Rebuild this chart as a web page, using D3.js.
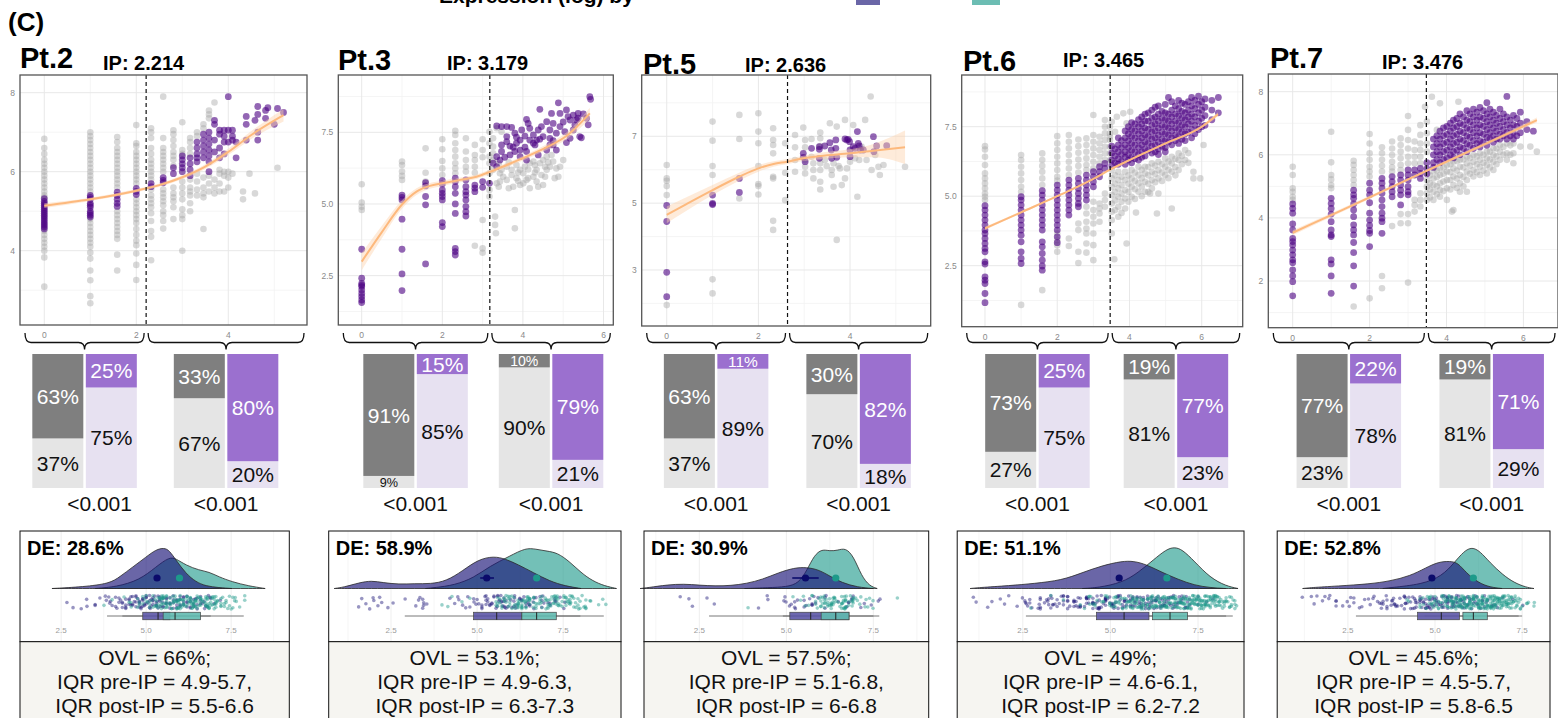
<!DOCTYPE html>
<html lang="en">
<head>
<meta charset="UTF-8">
<title>Expression (log) pre-IP / post-IP</title>
<script src="https://cdn.jsdelivr.net/npm/d3@7"></script>
<style>
  body { margin: 0; background: #fff; overflow: hidden; }
  svg text { font-family: "Liberation Sans", Arial, sans-serif; }
</style>
</head>
<body>
<svg id="chart" width="1558" height="718"></svg>
<script>
// ---------- values ----------
const patients = ["Pt.2", "Pt.3", "Pt.5", "Pt.6", "Pt.7"];
const ipValues = [2.214, 3.179, 2.636, 3.465, 3.476];
const deValues = ["28.6%", "58.9%", "30.9%", "51.1%", "52.8%"];
const ovlValues = ["66%", "53.1%", "57.5%", "49%", "45.6%"];
const iqrPre = ["4.9-5.7", "4.9-6.3", "5.1-6.8", "4.6-6.1", "4.5-5.7"];
const iqrPost = ["5.5-6.6", "6.3-7.3", "6-6.8", "6.2-7.2", "5.8-6.5"];

// stacked bars: [pre-IP group, post-IP group] per patient
const grayDark = [[63, 33], [91, 10], [63, 30], [73, 19], [77, 19]];
const grayLight = [[37, 67], [9, 90], [37, 70], [27, 81], [23, 81]];
const purpleDark = [[25, 80], [15, 79], [11, 82], [25, 77], [22, 71]];
const purpleLight = [[75, 20], [85, 21], [89, 18], [75, 23], [78, 29]];
const pValues = [["<0.001", "<0.001"], ["<0.001", "<0.001"], ["<0.001", "<0.001"], ["<0.001", "<0.001"], ["<0.001", "<0.001"]];

// scatter points, [x, [y values]]
const pt2Gray = [
  [0, [6.83, 6.6, 6.45, 6.3, 6.2, 6.1, 6.0, 5.9, 5.8, 5.7, 5.6, 5.5, 5.4, 5.35, 4.5, 4.4, 4.3, 4.2, 4.1, 4.0, 3.83, 3.09]],
  [1, [7.0, 6.9, 6.8, 6.7, 6.6, 6.5, 6.4, 6.3, 6.2, 6.1, 6.0, 5.9, 5.8, 5.7, 5.6, 5.5, 4.8, 4.7, 4.6, 4.5, 4.4, 4.3, 4.2, 4.1, 3.95, 3.8, 3.5, 3.25, 2.85, 2.67]],
  [1.585, [6.88, 6.75, 6.6, 6.5, 6.4, 6.3, 6.2, 6.1, 6.0, 5.9, 5.8, 5.7, 5.6, 5.0, 4.9, 4.8, 4.7, 4.6, 4.5, 4.4, 4.3, 3.9, 3.5]],
  [2, [7.18, 6.72, 6.65, 6.5, 6.4, 6.3, 6.2, 6.1, 6.0, 5.9, 5.8, 5.7, 5.3, 5.2, 5.1, 5.0, 4.9, 4.8, 4.7, 4.55, 4.4, 4.25, 4.14, 3.93, 3.64, 3.26]],
  [2.322, [7.1, 7.0, 6.85, 6.6, 6.45, 6.3, 6.2, 6.1, 6.0, 5.9, 5.8, 5.55, 5.4, 5.3, 5.2, 5.1, 4.95, 4.75, 4.5, 4.35, 3.76]],
  [2.585, [7.9, 6.85, 6.6, 6.5, 6.4, 6.3, 6.2, 6.1, 6.0, 5.55, 5.45, 5.35, 5.25, 5.15, 5.0, 4.9, 4.75, 4.56]],
  [2.807, [7.05, 6.95, 6.8, 6.65, 6.5, 6.4, 6.3, 6.15, 5.6, 5.45, 5.35, 5.25, 5.1, 4.8]],
  [3, [7.25, 6.55, 6.45, 5.75, 5.6, 5.45, 5.3, 5.05, 4.9, 4.8, 4.0]],
  [3.17, [6.85, 6.75, 6.6, 6.45, 5.8, 5.6, 5.5, 5.4, 5.2, 5.0]],
  [3.32, [7.0, 6.9, 5.95, 5.75, 5.55, 5.4]],
  [3.46, [7.2, 7.1, 5.85, 5.6, 5.45, 5.35, 4.55]],
  [3.58, [7.55, 7.45, 7.35, 5.9, 5.7, 5.5]],
  [3.7, [7.75, 5.8, 5.6, 5.45]],
  [3.81, [6.05, 5.95, 5.7, 5.5]],
  [3.91, [6.0, 5.9, 5.5]],
  [4, [6.0, 5.85, 5.6]],
  [4.09, [5.95]],
  [4.32, [5.5, 5.3]],
  [4.46, [5.95]],
  [4.58, [5.45]],
  [5.07, [6.1]]
];
const pt2Purple = [
  [0, [5.32, 5.25, 5.2, 5.15, 5.1, 5.05, 5.0, 4.95, 4.9, 4.85, 4.8, 4.75, 4.7, 4.65, 4.6, 4.55]],
  [1, [5.4, 5.35, 5.3, 5.2, 5.15, 5.1, 5.0, 4.95, 4.9, 4.85]],
  [1.585, [5.48, 5.4, 5.3, 5.2, 5.12]],
  [2, [5.58, 5.5, 5.42]],
  [2.322, [5.7, 5.62]],
  [2.585, [5.85, 5.78, 5.72]],
  [2.807, [6.1, 5.95]],
  [3, [6.4, 6.3, 6.2, 6.1, 6.0]],
  [3.17, [6.35, 6.2, 6.05, 5.9]],
  [3.32, [6.75, 6.6, 6.45, 6.35, 6.25]],
  [3.46, [6.95, 6.8, 6.65, 6.5, 6.35]],
  [3.58, [7.0, 6.85, 6.7, 6.55, 6.4, 6.25, 6.0]],
  [3.7, [7.3, 7.2, 6.8, 6.5]],
  [3.81, [7.05, 6.95, 6.6, 6.35]],
  [3.91, [7.05, 6.9, 6.75, 6.45]],
  [4, [7.9, 7.05, 6.75]],
  [4.09, [7.05, 6.9, 6.8]],
  [4.17, [6.75, 6.35]],
  [4.39, [7.4, 7.2, 6.8]],
  [4.58, [7.3]],
  [4.64, [7.65, 7.45, 7.0, 6.8]],
  [4.81, [7.55, 7.35]],
  [4.86, [7.62]],
  [5.0, [7.2]],
  [5.07, [7.6]],
  [5.2, [7.5]]
];

const pt3Gray = [
  [0, [5.69, 5.05, 4.9, 4.79]],
  [1, [6.48, 6.36, 6.13, 5.98, 5.84]],
  [1.585, [6.94, 6.09, 5.78]],
  [2, [7.26, 6.91, 6.5, 6.24, 6.01]],
  [2.322, [7.55, 7.41, 7.12, 6.88, 6.65, 6.42, 6.24, 6.07]],
  [2.585, [7.29, 6.83, 6.53, 6.3, 6.13]],
  [2.807, [7.06, 6.71, 6.53, 6.3, 6.09, 3.54]],
  [3, [7.26, 6.88, 6.63, 4.44, 3.45, 3.3]],
  [3.17, [7.52, 7.12, 6.65, 6.42, 6.07, 5.49, 5.26]],
  [3.26, [7.29, 7.0, 6.77, 6.53, 6.19]],
  [3.31, [4.56, 4.27]], [3.33, [3.98]], [3.35, [7.64, 5.72]], [3.4, [6.4, 5.6]], [3.43, [6.07, 5.78]],
  [3.47, [7.52, 6.19]], [3.51, [5.95]], [3.6, [6.3, 5.84]], [3.65, [6.45, 5.55]], [3.72, [6.19, 6.01]],
  [3.76, [5.6]], [3.8, [4.79, 4.15]], [3.84, [6.36, 5.9]], [3.88, [6.1, 5.8]], [3.93, [6.19, 5.66]],
  [4.01, [6.07, 5.72]], [4.05, [6.3]], [4.09, [5.84]], [4.13, [6.2, 5.9]], [4.17, [6.42, 5.55]],
  [4.26, [6.48, 5.95]], [4.3, [6.35, 6.1]], [4.34, [6.19, 5.78]], [4.38, [5.6]], [4.42, [6.42]],
  [4.46, [6.01]], [4.5, [6.53, 5.66]], [4.55, [6.3, 5.95]], [4.59, [6.65, 6.19]], [4.63, [6.45]], [4.67, [6.3]],
  [4.71, [6.71]], [4.75, [6.48]], [4.79, [5.9]], [4.83, [6.24]], [4.88, [5.95]],
  [4.92, [6.3]], [5.0, [6.53]]
];
const pt3Purple = [
  [0, [3.42, 2.41, 2.23, 2.17, 2.12, 2.0, 1.88, 1.77, 1.65, 1.56]],
  [1, [5.31, 5.23, 5.14, 4.47, 3.42, 2.56, 1.98]],
  [1.585, [5.74, 5.63, 5.26, 4.97, 2.91]],
  [2, [5.81, 5.7, 5.49, 5.37, 5.26, 5.14, 4.35, 4.21]],
  [2.322, [5.9, 5.78, 5.6, 5.37, 5.0, 4.67, 3.45, 3.34, 3.22]],
  [2.585, [5.84, 5.6, 5.43, 5.31, 5.14, 4.91, 4.73, 4.58]],
  [2.807, [5.66, 5.55, 5.43]],
  [3, [5.78, 5.58]],
  [3.17, [5.72]],
  [3.26, [6.42]], [3.35, [7.72, 6.65, 6.3]], [3.43, [6.53]], [3.47, [7.7, 7.06, 6.83]],
  [3.55, [6.63]], [3.6, [7.7, 7.17, 7.35]], [3.68, [7.02, 6.71]], [3.72, [7.67]],
  [3.76, [6.98]], [3.8, [7.47, 6.83]], [3.84, [7.33, 7.12]], [3.93, [7.23, 6.88, 6.65]],
  [3.97, [7.58]], [4.05, [7.37, 6.98]], [4.09, [7.95, 6.83, 6.53]], [4.13, [7.81]],
  [4.17, [7.64, 7.23]], [4.26, [7.41, 7.12]], [4.3, [7.06]], [4.34, [7.23]],
  [4.38, [7.58, 6.71]], [4.42, [8.3, 7.26]], [4.46, [7.7]], [4.5, [7.35]],
  [4.59, [7.87, 6.88]], [4.67, [7.29, 7.58, 7.06]], [4.71, [8.16]], [4.75, [7.21, 7.81, 7.06]],
  [4.83, [7.47, 6.88]], [4.88, [8.53]], [4.92, [7.7, 8.16]], [5.0, [7.86]],
  [5.04, [7.52]], [5.08, [7.14, 8.28]], [5.12, [8.05]], [5.17, [7.29, 7.93]],
  [5.25, [8.1, 7.58]], [5.29, [7.76]], [5.33, [7.93]], [5.37, [8.16, 7.99]],
  [5.41, [7.35]], [5.45, [7.31]], [5.5, [8.14]], [5.58, [7.99]], [5.62, [7.76]],
  [5.66, [8.74]], [5.68, [8.65]]
];

const pt5Gray = [
  [0, [6.14, 5.74, 5.67, 5.51, 5.24, 1.95]],
  [1, [7.44, 6.87, 6.11, 5.84, 2.72, 2.3]],
  [1.585, [7.64, 6.92, 5.14]],
  [2, [7.69, 7.14, 6.79, 6.11, 5.57, 5.51, 5.26]],
  [2.322, [7.24, 6.89, 6.74, 6.49, 5.79, 5.74, 4.47, 4.2]],
  [2.585, [6.79, 5.91, 5.09]],
  [2.8, [7.04, 6.67, 6.29, 5.94]],
  [2.98, [7.26]], [3.02, [6.89, 6.67, 6.29, 6.09, 5.89]],
  [3.16, [6.92, 6.39]], [3.2, [6.19, 5.99, 5.74]],
  [3.35, [7.11, 6.94, 6.71, 6.19, 5.99, 5.64, 5.41]],
  [3.45, [6.29]], [3.49, [6.11]], [3.56, [7.39]], [3.6, [5.99, 5.84]],
  [3.64, [5.49, 6.19]], [3.71, [7.29, 3.9]], [3.75, [6.11]], [3.78, [6.04]],
  [3.82, [5.54]], [3.89, [7.49, 5.74]], [3.93, [6.04]], [4.0, [6.24]],
  [4.07, [7.34]], [4.11, [6.34]], [4.16, [5.19]], [4.2, [6.29]], [4.25, [6.69]],
  [4.33, [7.49]], [4.36, [6.29]], [4.45, [8.19]], [4.47, [5.99]], [4.55, [6.44]],
  [4.62, [6.09]], [4.65, [5.84]], [4.73, [6.14]], [5.2, [6.09]]
];
const pt5Purple = [
  [0, [4.93, 4.45, 2.93, 2.2]],
  [1, [5.24, 4.99, 4.96]],
  [1.585, [5.74, 5.32]],
  [2.98, [6.49, 6.37]], [3.02, [6.24]], [3.16, [6.64]], [3.33, [6.69, 6.61, 6.34]],
  [3.45, [6.71]], [3.56, [6.81]], [3.59, [6.59]], [3.6, [6.34]], [3.69, [6.89, 6.64]],
  [3.71, [6.37]], [3.89, [6.92]], [3.93, [6.89]], [3.96, [6.91]], [3.99, [6.84]],
  [4.0, [6.59, 6.39]], [4.07, [6.69]], [4.11, [6.64]], [4.16, [7.14]], [4.18, [6.79]],
  [4.2, [6.71]], [4.23, [6.59]], [4.29, [6.59]], [4.51, [6.99]], [4.52, [6.54]],
  [4.58, [6.71]], [4.8, [6.72]]
];

const pt6Gray = [
  [0, [6.8, 6.68, 6.42, 6.12, 5.82, 5.64, 5.46, 5.28, 5.1, 4.98, 4.86]],
  [1, [6.48, 6.3, 6.06, 5.82, 5.58, 5.34, 5.16, 1.09]],
  [1.585, [6.54, 6.3, 6.09, 5.88, 5.64, 5.4, 1.62]],
  [2, [7.16, 6.9, 6.66, 6.42, 6.18, 5.94, 5.7, 5.56, 3.66, 3.42, 3.24, 3.0]],
  [2.322, [7.2, 6.96, 6.72, 6.48, 6.24, 6.0, 5.76, 3.48, 3.21]],
  [2.585, [7.04, 6.8, 6.56, 6.32, 6.09, 5.85, 4.02, 3.78, 3.0, 2.6]],
  [2.807, [7.08, 6.84, 6.6, 6.36, 6.12, 5.94, 4.62, 4.38, 4.08, 3.84, 3.66, 3.3, 2.97]],
  [3, [7.92, 7.2, 6.96, 6.72, 6.48, 6.24, 6.0, 4.8, 4.5, 4.26, 4.02, 3.66, 3.24, 2.7]],
  [3.17, [7.14, 6.9, 6.66, 6.42, 6.18, 4.74, 4.56, 4.38, 4.08]],
  [3.32, [7.74, 7.5, 7.26, 7.02, 6.78, 6.54, 6.3, 5.1, 4.86, 4.62]],
  [3.46, [7.5, 7.26, 7.14, 7.02, 6.78, 6.54, 6.3]],
  [3.51, [7.68, 5.94, 5.64, 5.34, 5.04, 4.74, 4.44, 4.14, 3.66]],
  [3.58, [2.73]], [3.6, [7.32, 5.75, 5.45, 5.15, 4.85, 4.5]], [3.65, [7.86]],
  [3.69, [5.88, 5.58, 5.28, 4.98, 4.62, 4.26]],
  [3.78, [5.7, 5.4, 5.1, 4.8, 4.4]],
  [3.83, [7.98]],
  [3.88, [5.88, 5.58, 5.22, 4.92, 4.56]],
  [3.92, [7.62, 3.3]], [3.97, [5.75, 5.45, 5.15, 4.8]], [4.02, [8.04]],
  [4.06, [5.94, 5.64, 5.34, 4.98]],
  [4.15, [5.85, 5.55, 5.25, 4.9]],
  [4.18, [4.41]],
  [4.25, [6.06, 5.76, 5.46, 5.16]],
  [4.34, [5.95, 5.65, 5.35, 5.0]],
  [4.43, [6.06, 5.82, 5.52, 5.16]],
  [4.52, [6.05, 5.75, 5.45, 5.15]],
  [4.57, [5.1]],
  [4.62, [6.18, 5.88, 5.58, 5.28]],
  [4.71, [6.1, 5.8, 5.5]],
  [4.76, [4.38]],
  [4.8, [6.24, 5.94, 5.64, 5.1]],
  [4.9, [6.15, 5.85, 5.55]],
  [4.99, [6.36, 6.06, 5.76]],
  [5.08, [6.25, 5.95, 5.65]],
  [5.17, [6.42, 6.18, 5.88, 4.56]],
  [5.27, [6.35, 6.05, 5.75]],
  [5.36, [6.54, 6.3, 5.94]],
  [5.45, [6.45, 6.15]],
  [5.54, [6.66, 6.3]],
  [5.63, [6.55, 6.2]],
  [5.77, [5.88, 5.64]], [5.96, [5.64]], [6.05, [6.84]]
];
const pt6Purple = [
  [0, [4.66, 4.5, 4.32, 4.14, 3.96, 3.78, 3.66, 3.48, 3.3, 3.12, 3.0, 2.64, 2.56, 2.1, 1.98, 1.86, 1.5, 1.17]],
  [1, [4.98, 4.86, 4.68, 4.5, 4.32, 4.14, 3.96, 3.78, 3.6, 3.36, 3.0, 2.76, 2.58]],
  [1.585, [5.2, 5.04, 4.86, 4.68, 4.5, 4.32, 4.14, 3.96, 3.78, 3.36, 3.18, 2.94, 2.7, 2.49, 2.34]],
  [2, [5.4, 5.22, 5.04, 4.86, 4.68, 4.5, 4.32, 4.14, 3.96, 3.78, 3.54, 3.33]],
  [2.322, [5.58, 5.4, 5.22, 5.04, 4.86, 4.68, 4.5, 4.32]],
  [2.585, [5.64, 5.46, 5.28, 5.1, 4.92, 4.74, 4.62]],
  [2.807, [5.76, 5.58, 5.4, 5.22, 5.04, 4.86]],
  [3, [5.88, 5.7, 5.52, 5.34]],
  [3.17, [6.06, 5.88, 5.7]],
  [3.32, [6.18, 6.0]],
  [3.51, [6.8, 6.55, 6.3, 6.1]],
  [3.6, [6.7, 6.45, 6.2]],
  [3.69, [7.1, 6.85, 6.6, 6.35, 6.15]],
  [3.78, [7.0, 6.75, 6.5, 6.25]],
  [3.88, [7.35, 7.1, 6.85, 6.6, 6.4, 6.15]],
  [3.97, [7.5, 7.25, 7.0, 6.75, 6.5, 6.3]],
  [4.06, [7.65, 7.4, 7.15, 6.9, 6.65, 6.4, 6.2]],
  [4.15, [7.6, 7.35, 7.1, 6.85, 6.6, 6.35]],
  [4.25, [7.75, 7.5, 7.25, 7.0, 6.75, 6.5, 6.3]],
  [4.34, [7.85, 7.6, 7.35, 7.1, 6.85, 6.6, 6.4]],
  [4.43, [7.95, 7.7, 7.45, 7.2, 6.95, 6.7, 6.45]],
  [4.52, [8.0, 7.7, 7.4, 7.15, 6.9, 6.65]],
  [4.62, [8.1, 7.8, 7.55, 7.3, 7.05, 6.8, 6.55]],
  [4.71, [8.2, 7.85, 7.6, 7.35, 7.1, 6.85, 6.6]],
  [4.8, [8.25, 7.95, 7.7, 7.45, 7.2, 6.95, 6.7, 6.5]],
  [4.9, [8.05, 7.8, 7.55, 7.3, 7.05, 6.8]],
  [4.99, [8.3, 8.0, 7.75, 7.5, 7.25, 7.0, 6.75, 6.6]],
  [5.08, [8.55, 7.95, 7.7, 7.45, 7.2, 6.95]],
  [5.17, [8.4, 8.1, 7.85, 7.6, 7.35, 7.1, 6.85]],
  [5.27, [8.25, 7.95, 7.7, 7.45, 7.2, 7.0]],
  [5.36, [8.45, 8.15, 7.9, 7.65, 7.4, 7.15, 6.9]],
  [5.45, [8.35, 8.05, 7.8, 7.55, 7.3, 7.05]],
  [5.54, [8.3, 8.0, 7.75, 7.5, 7.25, 7.0]],
  [5.63, [8.4, 8.1, 7.85, 7.6, 7.3]],
  [5.72, [8.55, 8.25, 7.95, 7.7, 7.4, 7.1]],
  [5.81, [8.45, 8.15, 7.85, 7.55, 7.25]],
  [5.91, [8.6, 8.3, 8.0, 7.7, 7.4]],
  [6.0, [8.4, 8.1, 7.8, 7.5]],
  [6.09, [8.5, 8.2, 7.9, 7.55]],
  [6.28, [8.45, 8.1, 7.75]],
  [6.46, [8.55, 8.0]]
];

const pt7Gray = [
  [0, [5.62, 5.36, 4.94, 4.83, 4.67, 4.57]],
  [1, [6.73, 5.76, 5.36, 5.22, 5.04, 4.94]],
  [1.585, [5.81, 5.68, 5.52, 5.36, 5.2, 5.04, 1.19]],
  [2, [6.66, 6.36, 6.05, 5.84, 5.62, 5.47, 5.31, 1.45]],
  [2.322, [6.24, 6.05, 5.84, 5.65, 5.47, 2.16, 1.77]],
  [2.585, [6.42, 6.2, 5.99, 5.78, 5.6, 5.47, 3.74]],
  [2.807, [6.52, 6.31, 6.1, 5.89, 5.68, 5.52, 4.12, 3.83]],
  [3, [7.23, 6.79, 6.47, 6.2, 5.94, 5.73, 4.12, 3.83, 1.95]],
  [3.17, [6.42, 6.15, 5.94, 5.73, 4.57, 4.41, 4.2]],
  [3.32, [6.94, 6.63, 6.36, 6.15, 5.94, 5.73, 4.78, 4.57, 4.36]],
  [3.44, [7.52]],
  [3.49, [7.05, 6.68, 6.36, 6.1, 5.2, 4.99, 4.78, 4.57]],
  [3.57, [5.35, 5.1, 4.9, 4.65]],
  [3.62, [7.84]],
  [3.66, [5.47, 5.25, 5.04, 4.83, 4.57]],
  [3.75, [6.79, 5.5, 5.3, 5.0, 4.75]],
  [3.83, [7.63, 5.57, 5.36, 5.1, 4.88, 4.67]],
  [3.92, [5.6, 5.4, 5.15, 4.85]],
  [4.01, [5.68, 5.47, 5.2, 4.94, 4.57]],
  [4.1, [5.7, 5.45, 5.2, 4.9]],
  [4.14, [4.2]],
  [4.18, [5.78, 5.57, 5.31, 5.04, 4.25]],
  [4.27, [5.8, 5.5, 5.25, 4.95]],
  [4.31, [7.68]],
  [4.35, [5.84, 5.62, 5.36, 5.1, 4.83]],
  [4.44, [5.85, 5.6, 5.3, 5.0]],
  [4.53, [5.94, 5.73, 5.47, 5.2, 4.83]],
  [4.61, [5.9, 5.65, 5.4]],
  [4.7, [5.99, 5.78, 5.52, 5.31]],
  [4.79, [5.95, 5.7, 5.45]],
  [4.87, [6.05, 5.84, 5.62, 5.36]],
  [4.96, [6.0, 5.75, 5.5]],
  [5.05, [6.1, 5.89, 5.68, 5.41]],
  [5.13, [6.1, 5.85, 5.6]],
  [5.22, [6.2, 5.99, 5.78, 5.52]],
  [5.3, [6.2, 5.95, 5.7]],
  [5.39, [6.31, 6.1, 5.84]],
  [5.48, [6.25, 6.0]],
  [5.57, [6.36, 6.05, 5.84]],
  [5.66, [6.3, 6.0]],
  [5.74, [6.36, 6.05, 5.73]],
  [5.92, [6.26]], [6.18, [6.26]], [6.35, [6.1]]
];
const pt7Purple = [
  [0, [4.44, 4.3, 4.15, 3.81, 3.62, 3.35, 3.25, 3.14, 2.98, 2.83, 2.67, 2.58, 2.35, 2.16, 1.98, 1.53]],
  [1, [4.62, 4.46, 4.3, 4.12, 3.88, 3.62, 3.46, 3.41, 2.67, 2.54, 2.16, 1.61]],
  [1.585, [4.88, 4.73, 4.62, 4.44, 4.25, 4.04, 3.78, 3.62, 3.46, 3.22, 2.9, 2.48, 1.84]],
  [2, [5.1, 4.88, 4.73, 4.48, 4.15, 3.93, 3.76, 3.6, 3.51, 3.09]],
  [2.322, [5.25, 5.1, 4.94, 4.78, 4.57, 4.36, 4.15, 3.99, 3.88, 3.51]],
  [2.585, [5.31, 5.15, 4.99, 4.83, 4.67]],
  [2.807, [5.36, 5.2, 5.04, 4.88, 4.73, 4.41]],
  [3, [5.52, 5.36, 5.2, 4.99, 4.83, 4.73]],
  [3.17, [5.52, 5.36]],
  [3.32, [5.57, 5.41, 5.25]],
  [3.49, [5.75, 5.55, 5.4]],
  [3.66, [6.5, 6.25, 6.0, 5.75, 5.6]],
  [3.75, [6.6, 6.35, 6.1, 5.85]],
  [3.83, [6.75, 6.5, 6.25, 6.0, 5.75]],
  [3.92, [6.85, 6.6, 6.35, 6.1, 5.85]],
  [4.01, [6.9, 6.65, 6.4, 6.15, 5.9]],
  [4.1, [7.0, 6.75, 6.5, 6.25, 6.0]],
  [4.18, [7.1, 6.85, 6.6, 6.35, 6.1, 5.9]],
  [4.27, [7.15, 6.9, 6.65, 6.4, 6.15]],
  [4.35, [7.3, 7.0, 6.75, 6.5, 6.25, 6.0]],
  [4.44, [7.2, 6.95, 6.7, 6.45, 6.2]],
  [4.53, [7.4, 7.1, 6.85, 6.6, 6.35, 6.1]],
  [4.61, [7.3, 7.05, 6.8, 6.55, 6.3]],
  [4.7, [7.45, 7.2, 6.95, 6.7, 6.45, 6.2]],
  [4.79, [7.35, 7.1, 6.85, 6.6, 6.35]],
  [4.87, [7.5, 7.2, 6.95, 6.7, 6.45, 6.25]],
  [4.96, [7.4, 7.15, 6.9, 6.65, 6.4]],
  [5.05, [7.65, 7.3, 7.05, 6.8, 6.55, 6.3]],
  [5.13, [7.45, 7.2, 6.95, 6.7, 6.5]],
  [5.22, [7.35, 7.1, 6.85, 6.6, 6.4]],
  [5.3, [7.25, 7.0, 6.75, 6.5]],
  [5.39, [7.45, 7.15, 6.9, 6.65, 6.5]],
  [5.48, [7.3, 7.05, 6.8, 6.6]],
  [5.57, [7.85, 7.2, 6.95, 6.7, 6.5]],
  [5.66, [7.1, 6.85, 6.6]],
  [5.74, [7.25, 6.95, 6.7, 6.5]],
  [5.83, [7.15, 6.9, 6.6]],
  [5.92, [7.35, 7.0, 6.7]],
  [6.09, [7.05, 6.8]],
  [6.26, [6.75]]
];

const grayPoints = [pt2Gray, pt3Gray, pt5Gray, pt6Gray, pt7Gray];
const purplePoints = [pt2Purple, pt3Purple, pt5Purple, pt6Purple, pt7Purple];

// smoothed trend with its standard error band
const loessX = [
  [0, 1, 2, 2.5, 3, 3.5, 4, 4.5, 5.2],
  [0, 0.5, 1, 1.36, 1.69, 2, 2.44, 2.85, 3.2, 3.6, 4.09, 4.59, 5.08, 5.66],
  [0, 0.44, 1, 1.58, 2, 2.33, 2.62, 2.98, 3.35, 4, 4.51, 5.2],
  [0, 1, 2, 3, 3.5, 4, 5, 6, 6.45],
  [0, 1, 2, 3, 4, 5, 6, 6.35]
];
const loessFit = [
  [5.14, 5.3, 5.52, 5.66, 5.86, 6.13, 6.5, 6.93, 7.43],
  [2.99, 4.02, 4.98, 5.43, 5.63, 5.72, 5.84, 5.95, 6.13, 6.36, 6.65, 6.98, 7.37, 8.16],
  [4.65, 4.98, 5.39, 5.79, 6.04, 6.17, 6.24, 6.34, 6.41, 6.49, 6.57, 6.67],
  [3.84, 4.42, 5.0, 5.62, 5.98, 6.3, 6.9, 7.5, 7.95],
  [3.53, 4.09, 4.65, 5.22, 5.78, 6.34, 6.9, 7.1]
];
const loessSe = [
  [0.06, 0.04, 0.04, 0.04, 0.05, 0.06, 0.08, 0.1, 0.16],
  [0.3, 0.22, 0.15, 0.12, 0.1, 0.09, 0.08, 0.08, 0.08, 0.08, 0.08, 0.1, 0.12, 0.2],
  [0.25, 0.2, 0.15, 0.12, 0.1, 0.08, 0.08, 0.08, 0.1, 0.12, 0.2, 0.5],
  [0.06, 0.04, 0.03, 0.03, 0.03, 0.03, 0.03, 0.05, 0.07],
  [0.08, 0.06, 0.05, 0.04, 0.04, 0.05, 0.07, 0.08]
];

// density curves [value, relative height]
const densPre = [
  [[2.23, 0], [3.15, .04], [3.93, .12], [4.22, .28], [4.61, .52], [5.0, .76], [5.29, .94], [5.53, .98], [5.68, .92], [5.88, .68], [6.17, .36], [6.46, .16], [6.75, .06], [7.14, .02], [7.53, 0]],
  [[0.85, 0], [1.12, .03], [1.58, .14], [1.93, .19], [2.27, .14], [2.73, .1], [3.19, .12], [3.65, .11], [4.11, .18], [4.57, .42], [5.03, .7], [5.49, .78], [5.83, .71], [6.18, .58], [6.64, .38], [7.1, .18], [7.56, .06], [8.02, 0]],
  [[0.8, 0], [1.02, .02], [1.59, .09], [2.05, .11], [2.5, .08], [2.95, .06], [3.41, .07], [3.86, .12], [4.32, .22], [4.77, .38], [5.23, .5], [5.57, .51], [5.91, .46], [6.25, .3], [6.59, .14], [7.05, .03], [7.5, 0]],
  [[1.0, 0], [1.22, .02], [2.13, .07], [2.82, .12], [3.62, .2], [4.19, .38], [4.76, .55], [5.33, .66], [5.67, .66], [6.02, .58], [6.47, .39], [6.93, .22], [7.39, .08], [7.84, .02], [8.3, 0]],
  [[1.2, 0], [1.41, .02], [2.21, .06], [3.13, .11], [3.71, .18], [4.28, .3], [4.74, .5], [5.09, .64], [5.43, .66], [5.66, .62], [5.89, .38], [6.24, .14], [6.58, .03], [6.93, 0]]
];
const densPost = [
  [[3.5, 0], [4.12, .04], [4.8, .2], [5.29, .52], [5.68, .76], [5.88, .72], [6.17, .56], [6.56, .44], [6.85, .4], [7.14, .28], [7.53, .16], [8.02, .06], [8.5, 0]],
  [[3.5, 0], [3.76, .02], [4.34, .08], [4.91, .26], [5.37, .54], [5.95, .78], [6.41, .98], [6.7, .95], [7.04, .9], [7.33, .86], [7.67, .66], [8.02, .38], [8.36, .18], [8.71, .06], [9.05, 0]],
  [[3.8, 0], [4.5, .02], [5.0, .04], [5.35, .12], [5.6, .45], [5.8, .8], [6.02, .95], [6.25, .9], [6.48, .92], [6.7, .98], [6.93, .78], [7.16, .3], [7.39, .06], [7.61, 0]],
  [[4.2, 0], [4.65, .02], [5.33, .14], [5.79, .38], [6.24, .7], [6.59, .94], [6.82, 1.0], [7.05, .94], [7.39, .66], [7.84, .26], [8.3, .06], [8.64, 0]],
  [[3.5, 0], [3.71, .02], [4.63, .1], [5.2, .3], [5.55, .62], [5.83, .9], [6.06, 1.0], [6.29, .9], [6.58, .62], [6.93, .34], [7.27, .14], [7.61, .03], [7.84, 0]]
];

// box plots [whisker low, q1, median, q3, whisker high]
const boxPre = [[3.85, 4.9, 5.35, 5.7, 6.9], [2.9, 4.9, 5.57, 6.3, 8.0], [2.78, 5.1, 5.7, 6.8, 7.5], [2.59, 4.6, 5.39, 6.1, 8.3], [2.73, 4.5, 5.18, 5.7, 7.4]];
const boxPost = [[4.3, 5.5, 5.85, 6.6, 7.87], [4.9, 6.3, 6.73, 7.3, 8.68], [4.9, 6.0, 6.42, 6.8, 7.67], [4.7, 6.2, 6.7, 7.2, 8.49], [4.7, 5.8, 6.1, 6.5, 7.5]];
// means with interval [low, mean, high]
const meanPre = [[5.25, 5.32, 5.39], [5.09, 5.28, 5.49], [5.17, 5.55, 5.93], [5.2, 5.25, 5.3], [4.85, 4.91, 4.97]];
const meanPost = [[5.93, 5.98, 6.03], [6.68, 6.73, 6.78], [6.37, 6.42, 6.47], [6.57, 6.61, 6.65], [6.06, 6.1, 6.14]];

// ---------- layout ----------
const layout = [
  { fx: [20, 307], fy: [75, 325], xd: [-0.528, 5.711], yd: [2.119, 8.448], xt: [0, 2, 4], yt: [4, 6, 8], yf: "d", tt: [20, 68], ipt: [103, 70], rx: [20, 289.3], rd: [1.29, 9.21], pShift: [15, 0] },
  { fx: [338.3, 613.3], fy: [75, 325], xd: [-0.581, 6.243], yd: [0.778, 9.499], xt: [0, 2, 4, 6], yt: [2.5, 5, 7.5], yf: ".1f", tt: [338, 70], ipt: [447, 70], rx: [328.7, 621], rd: [0.69, 9.18], pShift: [0, 0] },
  { fx: [641.7, 930.7], fy: [75, 326], xd: [-0.546, 5.76], yd: [1.324, 8.834], xt: [0, 2, 4], yt: [3, 5, 7], yf: "d", tt: [643, 74], ipt: [745, 72], rx: [644, 928.7], rd: [0.91, 9.09], pShift: [0, 0] },
  { fx: [961.7, 1242.7], fy: [75, 326.7], xd: [-0.645, 7.134], yd: [0.306, 9.36], xt: [0, 2, 4, 6], yt: [2.5, 5, 7.5], yf: ".1f", tt: [963, 71], ipt: [1063, 67], rx: [957.2, 1244], rd: [0.63, 8.81], pShift: [0, 0] },
  { fx: [1268.3, 1558], fy: [74, 327.7], xd: [-0.635, 6.9], yd: [0.52, 8.561], xt: [0, 2, 4, 6], yt: [2, 4, 6, 8], yf: "d", tt: [1270, 68], ipt: [1382, 69], rx: [1277.2, 1550], rd: [0.47, 8.3], pShift: [0, 0] }
];

const C = {
  gray: "#a9a9a9", purple: "#4b0082", loess: "#fdb97d", ribbon: "#fdd3ad",
  barDark: "#7f7f7f", barLight: "#e5e5e5", barPurple: "#9b70cf", barPurpleLight: "#e7e1f1",
  pre: "#1a1478", post: "#1d9a8a", preDot: "#0b0b6b"
};

const svg = d3.select("#chart");

// figure title and legend keys, cut off at the top edge as in the source
svg.append("text").attr("x", 439).attr("y", 3).attr("font-size", 21).attr("font-weight", "bold").text("Expression (log) by");
svg.append("rect").attr("x", 856).attr("y", -14).attr("width", 24).attr("height", 19).attr("fill", C.pre).attr("fill-opacity", 0.65);
svg.append("rect").attr("x", 972).attr("y", -14).attr("width", 28).attr("height", 19).attr("fill", C.post).attr("fill-opacity", 0.65);
svg.append("text").attr("x", 8).attr("y", 31).attr("font-size", 26).attr("font-weight", "bold").text("(C)");

function brace(x0, x1) {
  const y0 = 333, ym = 342.5, yt = 349.5, r = 6, xm = (x0 + x1) / 2;
  return `M${x0},${y0} Q${x0},${ym} ${x0 + r},${ym} L${xm - r},${ym} Q${xm},${ym} ${xm},${yt}` +
         ` Q${xm},${ym} ${xm + r},${ym} L${x1 - r},${ym} Q${x1},${ym} ${x1},${y0}`;
}

layout.forEach((L, i) => {
  const g = svg.append("g");
  const x = d3.scaleLinear().domain(L.xd).range(L.fx);
  const y = d3.scaleLinear().domain(L.yd).range([L.fy[1], L.fy[0]]);
  const W = L.fx[1] - L.fx[0], H = L.fy[1] - L.fy[0];

  // titles
  g.append("text").attr("x", L.tt[0]).attr("y", L.tt[1]).attr("font-size", 29).attr("font-weight", "bold").text(patients[i]);
  g.append("text").attr("x", L.ipt[0]).attr("y", L.ipt[1]).attr("font-size", 20).attr("font-weight", "bold").text("IP: " + ipValues[i]);

  // panel background + grid
  g.append("rect").attr("x", L.fx[0]).attr("y", L.fy[0]).attr("width", W).attr("height", H).attr("fill", "#fff");
  const ys = L.yt[1] - L.yt[0];
  const yMinor = d3.range(L.yt[0] - ys / 2, L.yd[1], ys).filter(v => v > L.yd[0]);
  const xMinor = d3.range(1, L.xd[1], 2);
  g.selectAll(".ymn").data(yMinor).join("line").attr("x1", L.fx[0]).attr("x2", L.fx[1]).attr("y1", d => y(d)).attr("y2", d => y(d)).attr("stroke", "#f3f3f3").attr("stroke-width", 0.8);
  g.selectAll(".xmn").data(xMinor).join("line").attr("y1", L.fy[0]).attr("y2", L.fy[1]).attr("x1", d => x(d)).attr("x2", d => x(d)).attr("stroke", "#f3f3f3").attr("stroke-width", 0.8);
  g.selectAll(".ymj").data(L.yt).join("line").attr("x1", L.fx[0]).attr("x2", L.fx[1]).attr("y1", d => y(d)).attr("y2", d => y(d)).attr("stroke", "#e8e8e8").attr("stroke-width", 1);
  g.selectAll(".xmj").data(L.xt).join("line").attr("y1", L.fy[0]).attr("y2", L.fy[1]).attr("x1", d => x(d)).attr("x2", d => x(d)).attr("stroke", "#e8e8e8").attr("stroke-width", 1);

  // points
  g.append("clipPath").attr("id", "clip" + i).append("rect").attr("x", L.fx[0]).attr("y", L.fy[0]).attr("width", W).attr("height", H);
  const pg = g.append("g").attr("clip-path", `url(#clip${i})`);
  const flat = cols => cols.flatMap(([xv, yv]) => yv.map(v => [xv, v]));
  pg.selectAll(".gp").data(flat(grayPoints[i])).join("circle").attr("cx", d => x(d[0])).attr("cy", d => y(d[1])).attr("r", 3.3).attr("fill", C.gray).attr("fill-opacity", 0.45);
  pg.selectAll(".pp").data(flat(purplePoints[i])).join("circle").attr("cx", d => x(d[0])).attr("cy", d => y(d[1])).attr("r", 3.4).attr("fill", C.purple).attr("fill-opacity", 0.6);

  // trend line
  const lo = loessX[i].map((xv, k) => ({ x: xv, f: loessFit[i][k], s: loessSe[i][k] }));
  pg.append("path").datum(lo).attr("fill", C.ribbon).attr("fill-opacity", 0.45)
    .attr("d", d3.area().x(d => x(d.x)).y0(d => y(d.f - d.s)).y1(d => y(d.f + d.s)).curve(d3.curveMonotoneX));
  pg.append("path").datum(lo).attr("fill", "none").attr("stroke", C.loess).attr("stroke-width", 2)
    .attr("d", d3.line().x(d => x(d.x)).y(d => y(d.f)).curve(d3.curveMonotoneX));

  // IP line + frame
  g.append("line").attr("x1", x(ipValues[i])).attr("x2", x(ipValues[i])).attr("y1", L.fy[0]).attr("y2", L.fy[1])
    .attr("stroke", "#111").attr("stroke-width", 1.2).attr("stroke-dasharray", "4,3");
  g.append("rect").attr("x", L.fx[0]).attr("y", L.fy[0]).attr("width", W).attr("height", H).attr("fill", "none").attr("stroke", "#555").attr("stroke-width", 1.3);

  // tick labels
  const yfmt = d3.format(L.yf);
  g.selectAll(".yl").data(L.yt).join("text").attr("x", L.fx[0] - 5).attr("y", d => y(d)).attr("dy", "0.35em")
    .attr("text-anchor", "end").attr("font-size", 8.5).attr("fill", "#8a8a8a").text(d => yfmt(d));
  g.selectAll(".xl").data(L.xt).join("text").attr("x", d => x(d)).attr("y", L.fy[1] + 13)
    .attr("text-anchor", "middle").attr("font-size", 8.5).attr("fill", "#8a8a8a").text(d => d);

  // braces
  const xi = x(ipValues[i]);
  const spans = [[L.fx[0] + 5, xi - 2], [xi + 2, L.fx[1] - 3]];
  g.selectAll(".br").data(spans).join("path").attr("d", d => brace(d[0], d[1]))
    .attr("fill", "none").attr("stroke", "#111").attr("stroke-width", 1.3);

  // stacked bars under each brace
  const by = d3.scaleLinear().domain([0, 100]).range([488, 354]);
  const bw = 51, gap = 2.5;
  spans.forEach((s, gi) => {
    const c = (s[0] + s[1]) / 2;
    const bars = [
      { x0: c - gap / 2 - bw, light: grayLight[i][gi], dark: grayDark[i][gi], cl: C.barLight, cd: C.barDark },
      { x0: c + gap / 2, light: purpleLight[i][gi], dark: purpleDark[i][gi], cl: C.barPurpleLight, cd: C.barPurple }
    ];
    bars.forEach(b => {
      const segs = [
        { v0: 0, v1: b.light, fill: b.cl, txt: "#111", lab: b.light },
        { v0: b.light, v1: 100, fill: b.cd, txt: "#fff", lab: b.dark }
      ];
      segs.forEach(sg => {
        const yTop = by(sg.v1), yBot = by(sg.v0), h = yBot - yTop;
        g.append("rect").attr("x", b.x0).attr("y", yTop).attr("width", bw).attr("height", h).attr("fill", sg.fill);
        g.append("text").attr("x", b.x0 + bw / 2).attr("y", yTop + h / 2).attr("dy", "0.36em")
          .attr("text-anchor", "middle").attr("font-size", Math.min(21, h * 1.05)).attr("fill", sg.txt).text(sg.lab + "%");
      });
    });
    g.append("text").attr("x", c + L.pShift[gi]).attr("y", 511).attr("text-anchor", "middle")
      .attr("font-size", 21).attr("fill", "#111").text(pValues[i][gi]);
  });

  // ---- rain cloud ----
  const rx = d3.scaleLinear().domain(L.rd).range(L.rx);
  const rTop = 531, rBot = 641.7, base = 588.5, hMax = 41.5;
  g.append("rect").attr("x", L.rx[0]).attr("y", rTop).attr("width", L.rx[1] - L.rx[0]).attr("height", rBot - rTop).attr("fill", "#fff");
  const rg = d3.range(1.25, L.rd[1], 1.25).filter(v => v > L.rd[0]);
  g.selectAll(".rg").data(rg).join("line").attr("x1", d => rx(d)).attr("x2", d => rx(d)).attr("y1", rTop).attr("y2", rBot)
    .attr("stroke", d => (Math.round(d / 1.25) % 2 === 0 ? "#ececec" : "#f5f5f5")).attr("stroke-width", 0.9);

  const area = d3.area().x(d => rx(d[0])).y0(base).y1(d => base - d[1] * hMax).curve(d3.curveBasis);
  g.append("path").datum(densPost[i]).attr("d", area).attr("fill", C.post).attr("fill-opacity", 0.62).attr("stroke", "#2a2a2a").attr("stroke-width", 0.8);
  g.append("path").datum(densPre[i]).attr("d", area).attr("fill", C.pre).attr("fill-opacity", 0.65).attr("stroke", "#2a2a2a").attr("stroke-width", 0.8);

  // mean + interval
  [[meanPre[i], C.preDot], [meanPost[i], C.post]].forEach(([m, col]) => {
    g.append("line").attr("x1", rx(m[0])).attr("x2", rx(m[2])).attr("y1", 578).attr("y2", 578).attr("stroke", col).attr("stroke-width", 1.6);
    g.append("circle").attr("cx", rx(m[1])).attr("cy", 578).attr("r", 3.6).attr("fill", col);
  });

  // jittered raw values, split at the IP
  const pre = [], post = [];
  [grayPoints[i], purplePoints[i]].forEach(cols => cols.forEach(([xv, yv]) => yv.forEach(v => (xv < ipValues[i] ? pre : post).push(v))));
  g.selectAll(".jpre").data(pre).join("circle").attr("cx", d => rx(d)).attr("cy", (d, k) => 595.5 + ((k * 0.618034) % 1) * 13.5)
    .attr("r", 1.8).attr("fill", C.pre).attr("fill-opacity", 0.45);
  g.selectAll(".jpost").data(post).join("circle").attr("cx", d => rx(d)).attr("cy", (d, k) => 595.5 + ((k * 0.618034 + 0.37) % 1) * 13.5)
    .attr("r", 1.8).attr("fill", C.post).attr("fill-opacity", 0.45);

  // box plots
  const bc = 616, bh = 7.5;
  [boxPost[i], boxPre[i]].forEach(b => {
    g.append("line").attr("x1", rx(b[0])).attr("x2", rx(b[4])).attr("y1", bc).attr("y2", bc).attr("stroke", "#6a6a6a").attr("stroke-width", 0.9);
  });
  [[boxPre[i], "#5c57a6"], [boxPost[i], "#62bab0"]].forEach(([b, col]) => {
    g.append("rect").attr("x", rx(b[1])).attr("y", bc - bh / 2).attr("width", rx(b[3]) - rx(b[1])).attr("height", bh)
      .attr("fill", col).attr("fill-opacity", 0.9).attr("stroke", "#444").attr("stroke-width", 0.7);
    g.append("line").attr("x1", rx(b[2])).attr("x2", rx(b[2])).attr("y1", bc - bh / 2).attr("y2", bc + bh / 2).attr("stroke", "#222").attr("stroke-width", 1);
  });

  g.selectAll(".rl").data([2.5, 5, 7.5]).join("text").attr("x", d => rx(d)).attr("y", 633).attr("text-anchor", "middle")
    .attr("font-size", 8).attr("fill", "#9a9a9a").text(d => d3.format(".1f")(d));
  g.append("rect").attr("x", L.rx[0]).attr("y", rTop).attr("width", L.rx[1] - L.rx[0]).attr("height", rBot - rTop)
    .attr("fill", "none").attr("stroke", "#111").attr("stroke-width", 1);
  g.append("text").attr("x", L.rx[0] + 7).attr("y", 555).attr("font-size", 20).attr("font-weight", "bold").text("DE: " + deValues[i]);

  // summary box
  g.append("rect").attr("x", L.rx[0]).attr("y", rBot).attr("width", L.rx[1] - L.rx[0]).attr("height", 100)
    .attr("fill", "#f6f5f1").attr("stroke", "#111").attr("stroke-width", 1);
  const cx = (L.rx[0] + L.rx[1]) / 2;
  const lines = [`OVL = ${ovlValues[i]};`, `IQR pre-IP = ${iqrPre[i]},`, `IQR post-IP = ${iqrPost[i]}`];
  g.selectAll(".sl").data(lines).join("text").attr("x", cx).attr("y", (d, k) => [665, 689, 713][k])
    .attr("text-anchor", "middle").attr("font-size", 21).attr("fill", "#111").text(d => d);
});
</script>
</body>
</html>
